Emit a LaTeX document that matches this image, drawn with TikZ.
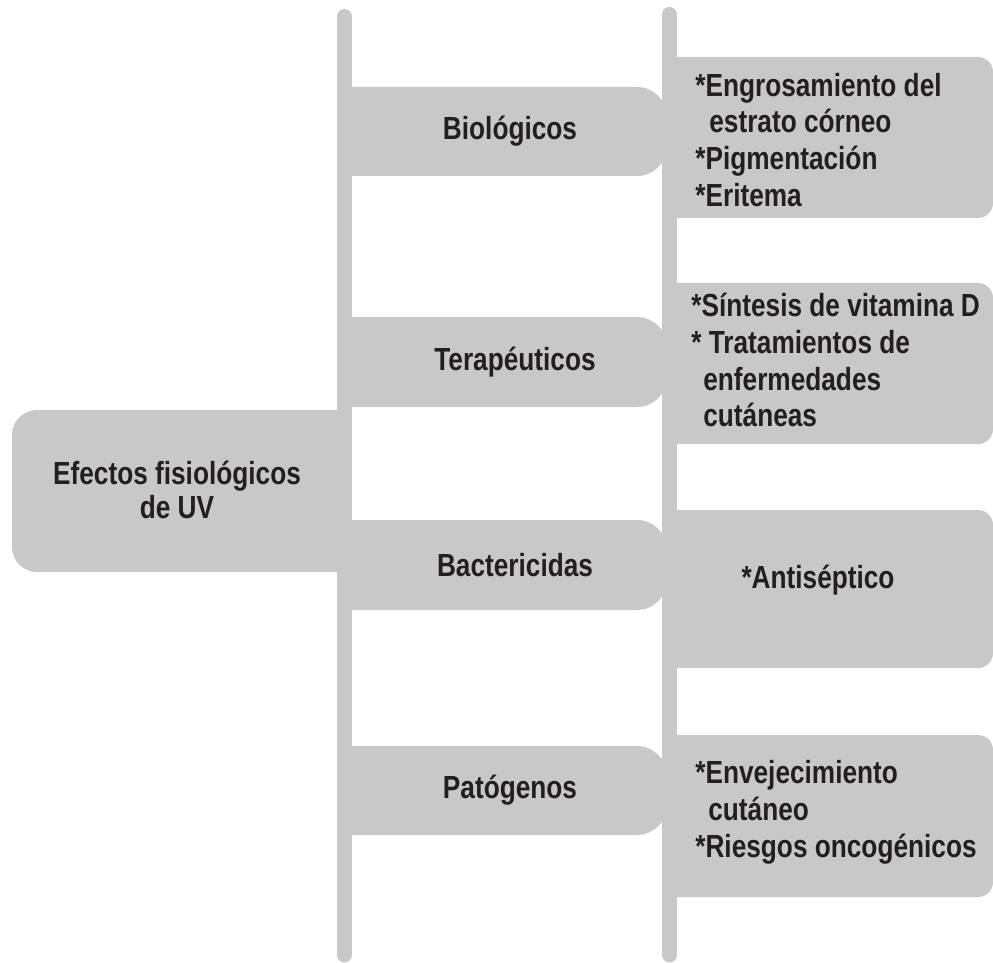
\documentclass[tikz,border=0pt]{standalone}
\usepackage{fontspec}
\setmainfont{Liberation Sans}[FakeStretch=0.82]
\usepackage{xcolor}
\usepackage{tikz}
\definecolor{cbox}{HTML}{C8C8C8}
\definecolor{ctext}{HTML}{231F20}
\tikzset{lbl/.style={text=ctext,inner sep=0pt,font=\bfseries\fontsize{18.2}{21}\selectfont},
  rail/.style={cbox,line width=0.3cm,line cap=round}}
% boxes hanging between the two rails, rounded on the right
\newcommand{\midbox}[2]{\fill[cbox] (6.89,#1) -- (12.74,#1) arc[start angle=90,end angle=0,radius=0.6] -- (13.34,#2+0.6) arc[start angle=0,end angle=-90,radius=0.6] -- (6.89,#2) -- cycle;}
\newcommand{\listbox}[2]{\fill[cbox] (13.39,#1) -- (19.56,#1) arc[start angle=90,end angle=0,radius=0.3] -- (19.86,#2+0.3) arc[start angle=0,end angle=-90,radius=0.3] -- (13.39,#2) -- cycle;}

\begin{document}
\begin{tikzpicture}
\useasboundingbox (0,0) rectangle (19.86,19.24);

% ===== rails =====
\coordinate (ltop) at (6.89,18.91); \coordinate (lbot) at (6.89,0.14);
\coordinate (rtop) at (13.39,18.95); \coordinate (rbot) at (13.39,0.14);
\draw[rail] (ltop) -- (lbot);
\draw[rail] (rtop) -- (rbot);

% ===== root =====
\fill[cbox] (6.89,11.04) -- (0.74,11.04) arc[start angle=90,end angle=180,radius=0.5] -- (0.24,8.30) arc[start angle=180,end angle=270,radius=0.5] -- (6.89,7.80) -- cycle;
\node[lbl,align=center,font=\bfseries\fontsize{18.2}{19}\selectfont] (root) at (3.54,9.44) {Efectos fisiológicos\\de UV};

% ===== kinds of effect =====
\midbox{17.50}{15.72} \midbox{12.90}{11.10} \midbox{8.84}{7.04} \midbox{4.32}{2.54}
\node[lbl] (bio) at (10.2,16.61) {Biológicos};
\node[lbl] (tera) at (10.3,12.00) {Terapéuticos};
\node[lbl] (bact) at (10.3,7.94) {Bactericidas};
\node[lbl] (pato) at (10.2,3.43) {Patógenos};

% ===== lists =====
\listbox{18.10}{14.88} \listbox{13.58}{10.36} \listbox{9.04}{5.88} \listbox{4.54}{1.30}
\node[lbl,align=left,anchor=west] (bioitems) at (13.90,16.44)
   {*Engrosamiento del\\\hspace*{0.28cm}estrato córneo\\*Pigmentación\\*Eritema};
\node[lbl,align=left,anchor=west] (teraitems) at (13.82,12.04)
   {*Síntesis de vitamina D\\* Tratamientos de\\\hspace*{0.24cm}enfermedades\\\hspace*{0.24cm}cutáneas};
\node[lbl] (bactitems) at (16.36,7.64) {*Antiséptico};
\node[lbl,align=left,anchor=west] (patoitems) at (13.90,3.00)
   {*Envejecimiento\\\hspace*{0.26cm}cutáneo\\*Riesgos oncogénicos};

\end{tikzpicture}
\end{document}
